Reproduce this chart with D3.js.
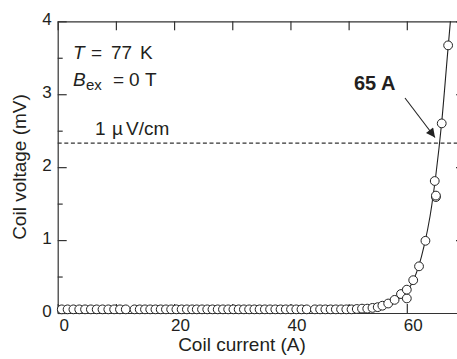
<!DOCTYPE html>
<html>
<head>
<meta charset="utf-8">
<script src="https://cdn.jsdelivr.net/npm/d3@7"></script>
<style>
  html, body { margin: 0; padding: 0; background: #fff; }
  svg { display: block; overflow: hidden; }
  text { font-family: "Liberation Sans", Arial, sans-serif; fill: #231f20; }
</style>
</head>
<body>
<div id="chart"></div>
<script>
// measured points (coil current in A, coil voltage in mV)
const current = [
  0.7, 1.7, 2.7, 3.7, 4.7, 5.7, 6.7, 7.7, 8.7, 9.7, 10.7, 11.7,
  13.2, 14.1, 15.0, 15.9, 16.8, 17.7, 18.6, 19.5, 20.4, 21.3, 22.2, 23.1,
  23.9, 24.8, 25.7, 26.6, 27.5, 28.4, 29.3, 30.2, 31.1, 32.0, 32.9, 33.8,
  34.7, 35.6, 36.5, 37.4, 38.3, 39.2, 40.1, 41.0, 41.9, 42.8,
  44.2, 45.1, 46.0, 46.9, 47.8, 48.7, 49.6, 50.5, 51.4, 52.3, 53.2, 54.1,
  55.0, 55.8, 56.8, 57.9, 59.0, 60.0, 60.0, 61.1, 62.1, 63.2,
  65.0, 65.0, 64.8, 66.0, 67.1
];
const voltage = [
  0.05, 0.05, 0.05, 0.05, 0.05, 0.05, 0.05, 0.05, 0.05, 0.05, 0.05, 0.05,
  0.05, 0.05, 0.05, 0.05, 0.05, 0.05, 0.05, 0.05, 0.05, 0.05, 0.05, 0.05,
  0.05, 0.05, 0.05, 0.05, 0.05, 0.05, 0.05, 0.05, 0.05, 0.05, 0.05, 0.05,
  0.05, 0.05, 0.05, 0.05, 0.05, 0.05, 0.05, 0.05, 0.05, 0.05,
  0.05, 0.05, 0.05, 0.05, 0.05, 0.05, 0.05, 0.05, 0.055, 0.06, 0.06, 0.07,
  0.08, 0.10, 0.13, 0.18, 0.26, 0.20, 0.32, 0.45, 0.64, 0.99,
  1.59, 1.61, 1.81, 2.60, 3.67
];

// fitted curve
const fitCurrent = [55.0, 56.5, 58.0, 59.0, 60.0, 61.0, 62.0, 63.0, 64.0, 65.0, 66.0, 67.0, 67.6];
const fitVoltage = [0.07, 0.11, 0.17, 0.22, 0.29, 0.43, 0.63, 0.93, 1.33, 1.90, 2.62, 3.55, 4.1];

const criterion = 2.33;           // 1 µV/cm level (mV)
const xTicks = [0, 10, 20, 30, 40, 50, 60, 70];
const xLabels = [0, 20, 40, 60];
const yTicks = [0, 1, 2, 3, 4];
const yMinor = [0.5, 1.5, 2.5, 3.5];

const width = 457, height = 359;
const plotLeft = 57.7, plotRight = 465, plotTop = 21.3, plotBottom = 313;

const svg = d3.select('#chart').append('svg')
  .attr('width', width)
  .attr('height', height);

const x = d3.scaleLinear().domain([0, 70]).range([plotLeft, plotRight]);
const y = d3.scaleLinear().domain([0, 4]).range([plotBottom, plotTop]);

const defs = svg.append('defs');
defs.append('clipPath').attr('id', 'plot')
  .append('rect').attr('x', plotLeft).attr('y', plotTop)
  .attr('width', plotRight - plotLeft).attr('height', plotBottom - plotTop);

const axisColor = '#333';
const styleAxis = g => {
  g.selectAll('.domain').attr('stroke', axisColor).attr('stroke-width', 1.2);
  g.selectAll('.tick line').attr('stroke', axisColor).attr('stroke-width', 1.2);
};
const styleLabels = g => g.selectAll('text')
  .attr('font-size', 17)
  .attr('font-family', '"Liberation Sans", Arial, sans-serif')
  .attr('fill', '#231f20');

// frame and ticks (inward)
svg.append('g')
  .attr('transform', `translate(${plotLeft},0)`)
  .call(d3.axisLeft(y).tickValues(yTicks).tickSize(-9).tickPadding(6)
    .tickSizeOuter(0).tickFormat(d3.format('d')))
  .call(styleAxis)
  .call(styleLabels)
  .call(g => g.selectAll('text').attr('y', -2));

svg.append('g')
  .attr('transform', `translate(${plotLeft},0)`)
  .call(d3.axisLeft(y).tickValues(yMinor).tickSize(-5).tickFormat('').tickSizeOuter(0))
  .call(styleAxis)
  .call(g => g.select('.domain').remove());

svg.append('g')
  .attr('transform', `translate(${plotRight},0)`)
  .call(d3.axisRight(y).tickValues(yTicks).tickSize(-9).tickFormat('').tickSizeOuter(0))
  .call(styleAxis);

svg.append('g')
  .attr('transform', `translate(0,${plotTop})`)
  .call(d3.axisTop(x).tickValues(xTicks).tickSize(-9).tickFormat('').tickSizeOuter(0))
  .call(styleAxis);

svg.append('g')
  .attr('transform', `translate(0,${plotBottom})`)
  .call(d3.axisBottom(x).tickValues(xTicks).tickSize(-9).tickPadding(6).tickSizeOuter(0)
    .tickFormat(d => xLabels.includes(d) ? d : ''))
  .call(styleAxis)
  .call(styleLabels)
  .call(g => g.selectAll('text').attr('dx', 6));

// criterion line
svg.append('line')
  .attr('x1', plotLeft).attr('x2', plotRight)
  .attr('y1', y(criterion)).attr('y2', y(criterion))
  .attr('stroke', '#333').attr('stroke-width', 1.1)
  .attr('stroke-dasharray', '4,2.6');

// fit curve
const line = d3.line()
  .x((d, i) => x(fitCurrent[i]))
  .y(d => y(d))
  .curve(d3.curveMonotoneX);

svg.append('path')
  .attr('clip-path', 'url(#plot)')
  .attr('d', line(fitVoltage))
  .attr('fill', 'none')
  .attr('stroke', '#222')
  .attr('stroke-width', 1.1);

// data points
svg.append('g')
  .selectAll('circle')
  .data(current)
  .join('circle')
  .attr('cx', d => x(d))
  .attr('cy', (d, i) => y(voltage[i]))
  .attr('r', 4.4)
  .attr('fill', '#fff')
  .attr('stroke', '#222')
  .attr('stroke-width', 1);

// annotations
const note = svg.append('g').attr('font-size', 19);

const t1 = note.append('text').attr('y', 58.5);
t1.append('tspan').attr('x', 73).attr('font-style', 'italic').text('T');
t1.append('tspan').attr('x', 91).text('=');
t1.append('tspan').attr('x', 111).text('77');
t1.append('tspan').attr('x', 140).text('K');

const t2 = note.append('text').attr('y', 85.5);
t2.append('tspan').attr('x', 73).attr('font-style', 'italic').text('B');
t2.append('tspan').attr('x', 86).attr('font-size', 15).attr('dy', 4).text('ex');
t2.append('tspan').attr('x', 113).attr('dy', -4).text('=');
t2.append('tspan').attr('x', 129).text('0');
t2.append('tspan').attr('x', 145).text('T');

const t3 = note.append('text').attr('y', 135);
t3.append('tspan').attr('x', 95).text('1');
t3.append('tspan').attr('x', 112).text('\u00b5');
t3.append('tspan').attr('x', 126).text('V/cm');

svg.append('text')
  .attr('x', 354).attr('y', 90)
  .attr('font-size', 20).attr('font-weight', 'bold')
  .text('65 A');

// arrow to the crossing point
defs.append('marker')
  .attr('id', 'head').attr('viewBox', '0 0 10 10')
  .attr('refX', 10).attr('refY', 5)
  .attr('markerWidth', 11).attr('markerHeight', 9)
  .attr('markerUnits', 'userSpaceOnUse')
  .attr('orient', 'auto')
  .append('path').attr('d', 'M0,0 L10,5 L0,10 Z').attr('fill', '#222');

svg.append('line')
  .attr('x1', 405).attr('y1', 98)
  .attr('x2', 435).attr('y2', 137.5)
  .attr('stroke', '#222').attr('stroke-width', 1.1)
  .attr('marker-end', 'url(#head)');

// axis titles
svg.append('text')
  .attr('x', 242).attr('y', 351)
  .attr('text-anchor', 'middle').attr('font-size', 19)
  .text('Coil current (A)');

svg.append('text')
  .attr('transform', 'translate(26,167) rotate(-90)')
  .attr('text-anchor', 'middle').attr('font-size', 19)
  .text('Coil voltage (mV)');
</script>
</body>
</html>
